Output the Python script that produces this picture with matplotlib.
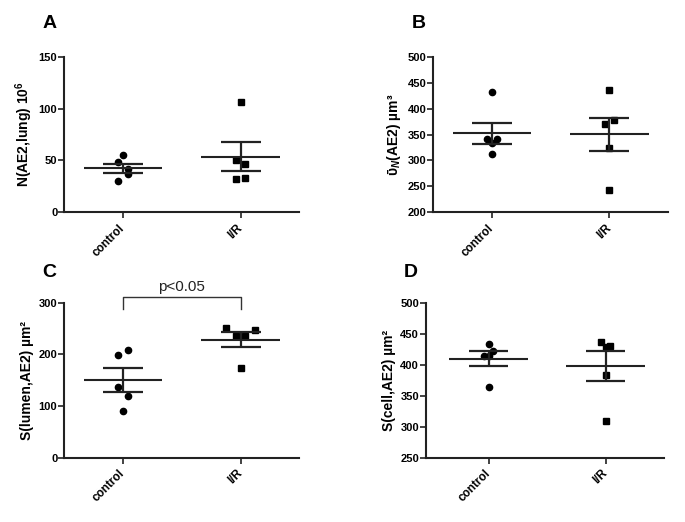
import numpy as np
import matplotlib
matplotlib.use("Agg")
import matplotlib.pyplot as plt

plt.rcParams['font.family'] = ['Liberation Sans', 'DejaVu Sans']
plt.rcParams['font.weight'] = 'bold'
plt.rcParams['axes.labelweight'] = 'bold'
plt.rcParams['mathtext.fontset'] = 'custom'
plt.rcParams['mathtext.rm'] = 'Liberation Sans:bold'
plt.rcParams['mathtext.it'] = 'Liberation Sans:bold:italic'
plt.rcParams['mathtext.bf'] = 'Liberation Sans:bold'

groups = ['control', 'I/R']

# values
A_control = [55.2, 48.8, 41.4, 36.6, 30.2]
A_ir = [106.6, 50.4, 46.2, 32.1, 33.1]
B_control = [431.9, 342.0, 342.0, 334.3, 312.4]
B_ir = [435.1, 378.6, 369.6, 324.0, 243.0]
C_control = [207.7, 198.0, 136.1, 120.0, 91.0]
C_ir = [250.3, 247.1, 236.1, 234.8, 172.9]
D_control = [432.8, 422.6, 414.0, 414.0, 363.4]
D_ir = [437.1, 429.0, 430.1, 383.9, 309.7]

ylabels = ['N(AE2,lung) 10$^{6}$', 'ῡ$_{N}$(AE2) µm³',
           'S(lumen,AE2) µm²', 'S(cell,AE2) µm²']
letters = ['A', 'B', 'C', 'D']
ylims = [(0, 150), (200, 500), (0, 300), (250, 500)]
yticks = [[0, 50, 100, 150], [200, 250, 300, 350, 400, 450, 500],
          [0, 100, 200, 300], [250, 300, 350, 400, 450, 500]]

# horizontal spread of overlapping points (GraphPad scatter), in steps
spread = [([0, -1, 1, 1, -1], [0, -1, 1, -1, 1]),
          ([0, -1, 1, 0, 0], [0, 1, -1, 0, 0]),
          ([1, -1, -1, 1, 0], [-3, 3, -1, 1, 0]),
          ([0, 1, -1, 0, 0], [-1, 0, 1, 0, 0])]

W, H = 685, 522
boxes = [(64.3, 299.3, 56.7, 212.3), (433.3, 668, 56.7, 212.3),
         (64.3, 299.3, 302.7, 457.7), (426, 664, 302.7, 457.7)]
xlims = [(-0.5, 1.5), (-0.5, 1.5), (-0.5, 1.5), (-0.535, 1.5)]

data = [(A_control, A_ir), (B_control, B_ir), (C_control, C_ir), (D_control, D_ir)]

fig = plt.figure(figsize=(W / 100, H / 100), dpi=100)

for i in range(4):
    l, r, t, b = boxes[i]
    ax = fig.add_axes([l / W, 1 - b / H, (r - l) / W, (b - t) / H])
    for g, vals in enumerate(data[i]):
        vals = np.array(vals)
        xs = g + 0.04 * np.array(spread[i][g])
        ax.plot(xs, vals, ls='none', marker='o' if g == 0 else 's',
                ms=4.5, color='black', zorder=2, clip_on=False)
        m = vals.mean()
        sem = vals.std(ddof=1) / np.sqrt(len(vals))
        ax.hlines(m, g - 0.335, g + 0.335, color='#222222', lw=1.5, zorder=3)
        ax.hlines([m - sem, m + sem], g - 0.17, g + 0.17, color='#222222', lw=1.6, zorder=3)
        ax.vlines(g, m - sem, m + sem, color='#222222', lw=1.6, zorder=3)
    ax.set_xlim(*xlims[i])
    ax.set_ylim(*ylims[i])
    ax.set_yticks(yticks[i])
    ax.set_xticks([0, 1])
    ax.set_xticklabels(groups, rotation=45, ha='right', va='center',
                       rotation_mode='anchor', fontsize=8.5)
    ax.tick_params(axis='y', labelsize=8, length=4, width=1.2, pad=1, color='#222222')
    ax.tick_params(axis='x', length=4, width=1.2, pad=6, color='#222222')
    for s in ['top', 'right']:
        ax.spines[s].set_visible(False)
    for s in ['left', 'bottom']:
        ax.spines[s].set_linewidth(1.5)
        ax.spines[s].set_color('#222222')
    ax.set_ylabel(ylabels[i], fontsize=10, labelpad=3)
    fig.text((l - 22) / W, 1 - 28 / H if i < 2 else 1 - 277 / H, letters[i],
             fontsize=14, fontweight='bold')

    if i == 2:
        ytop = 311.6
        ax.plot([0, 0, 1, 1], [287.7, ytop, ytop, 287.7], color='#333333',
                lw=1.0, clip_on=False)
        ax.text(0.5, ytop + 6, 'p<0.05', ha='center', va='bottom',
                fontsize=11, fontweight='normal', color='#222222')

fig.savefig('out.png', dpi=100)
